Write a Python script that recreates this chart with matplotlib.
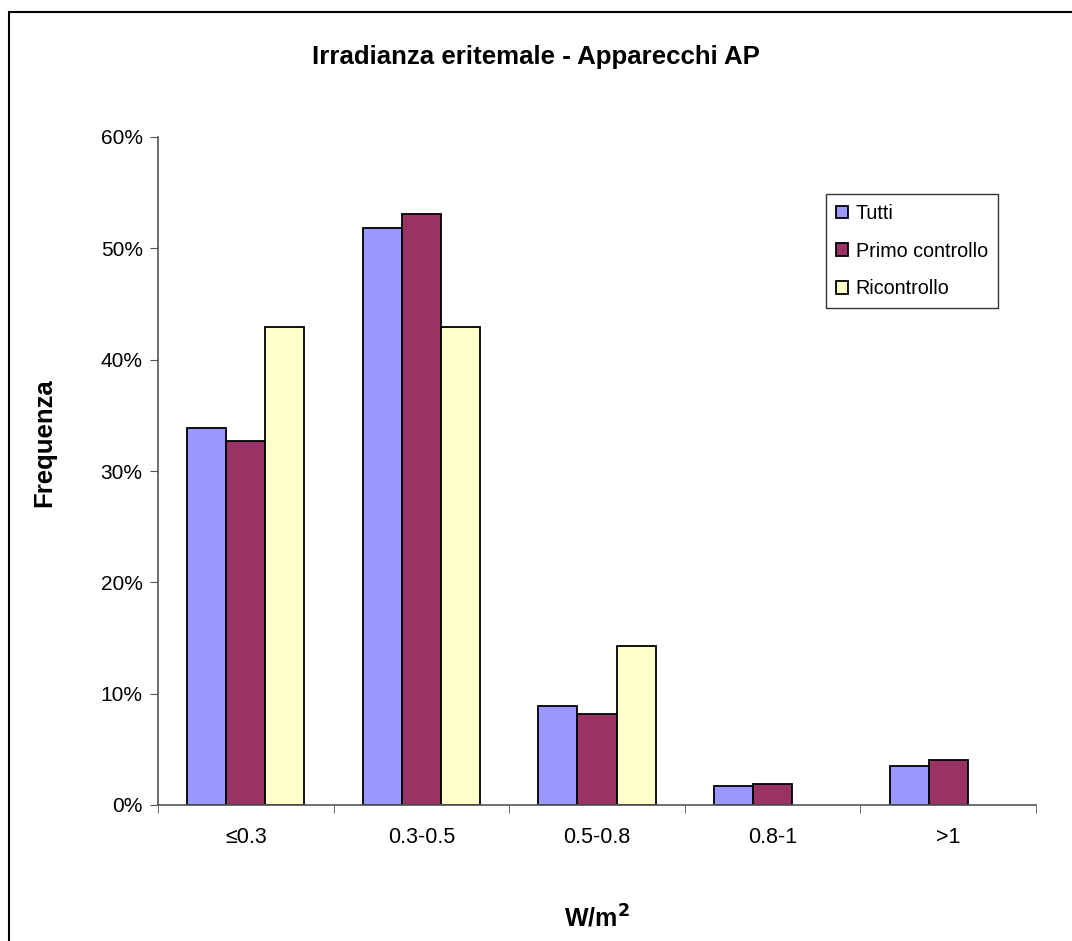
import numpy as np
import matplotlib.pyplot as plt
from matplotlib.patches import Rectangle

plt.rcParams['font.family'] = ['Liberation Sans', 'DejaVu Sans']

categories = ["≤0.3", "0.3-0.5", "0.5-0.8", "0.8-1", ">1"]
series_names = ["Tutti", "Primo controllo", "Ricontrollo"]
tutti = [33.9, 51.8, 8.9, 1.7, 3.5]
primo = [32.7, 53.1, 8.2, 1.9, 4.0]
ricontrollo = [42.9, 42.9, 14.3, 0.0, 0.0]
colors = ["#9999FF", "#993366", "#FFFFCC"]

W, H = 1072, 941
fig = plt.figure(figsize=(W / 100, H / 100), dpi=100)
# outer chart border (right/bottom cut off in the reference)
fig.patches.append(Rectangle((9 / W, -0.1), 1.2, (H - 12) / H + 0.1,
                             transform=fig.transFigure, fill=False,
                             edgecolor="black", linewidth=1.5))

ax = fig.add_axes([158 / W, 1 - 805 / H, (1036 - 158) / W, (805 - 137) / H])

x = np.arange(len(categories))
w = 1 / 4.5
for i, (vals, name) in enumerate(zip([tutti, primo, ricontrollo], series_names)):
    bars = ax.bar(x + (i - 1) * w, vals, width=w, color=colors[i], edgecolor="black",
                  linewidth=1.3, label=name)
    for b, v in zip(bars, vals):
        if v == 0:
            b.set_visible(False)

ax.set_xlim(-0.5, len(categories) - 0.5)
ax.set_ylim(0, 60)
ax.set_yticks(np.arange(0, 61, 10))
ax.set_yticklabels([f"{v}%" for v in range(0, 61, 10)], fontsize=15)
ax.set_xticks(x)
ax.set_xticklabels(categories, fontsize=15.5)
ax.tick_params(axis="x", length=0, pad=16)
ax.set_xticks(np.arange(-0.5, len(categories), 1), minor=True)
ax.tick_params(axis="x", which="minor", length=6, direction="out", color="#555555")
ax.tick_params(axis="y", length=6, direction="out", color="#555555", pad=5)

for s in ["top", "right"]:
    ax.spines[s].set_visible(False)
for s in ["left", "bottom"]:
    ax.spines[s].set_color("#555555")
    ax.spines[s].set_linewidth(1.2)

fig.text(536 / W, 1 - 57 / H, "Irradianza eritemale - Apparecchi AP", fontsize=18.6,
         fontweight="bold", ha="center", va="center")
fig.text(44 / W, 1 - 443 / H, "Frequenza", fontsize=18.5, fontweight="bold",
         ha="center", va="center", rotation=90)
fig.text(597 / W, 1 - 918 / H, "W/m$^\\mathbf{2}$", fontsize=18, fontweight="bold",
         ha="center", va="center")

leg = ax.legend(loc="upper left", bbox_to_anchor=((826 - 158) / 878, 1 - (194 - 137) / 668),
                fontsize=14.2, frameon=True, fancybox=False, edgecolor="black",
                handlelength=0.6, handleheight=0.6, handletextpad=0.4,
                labelspacing=0.95, borderpad=0.5, borderaxespad=0)
leg.get_frame().set_linewidth(1.0)

fig.savefig("out.png", dpi=100)
